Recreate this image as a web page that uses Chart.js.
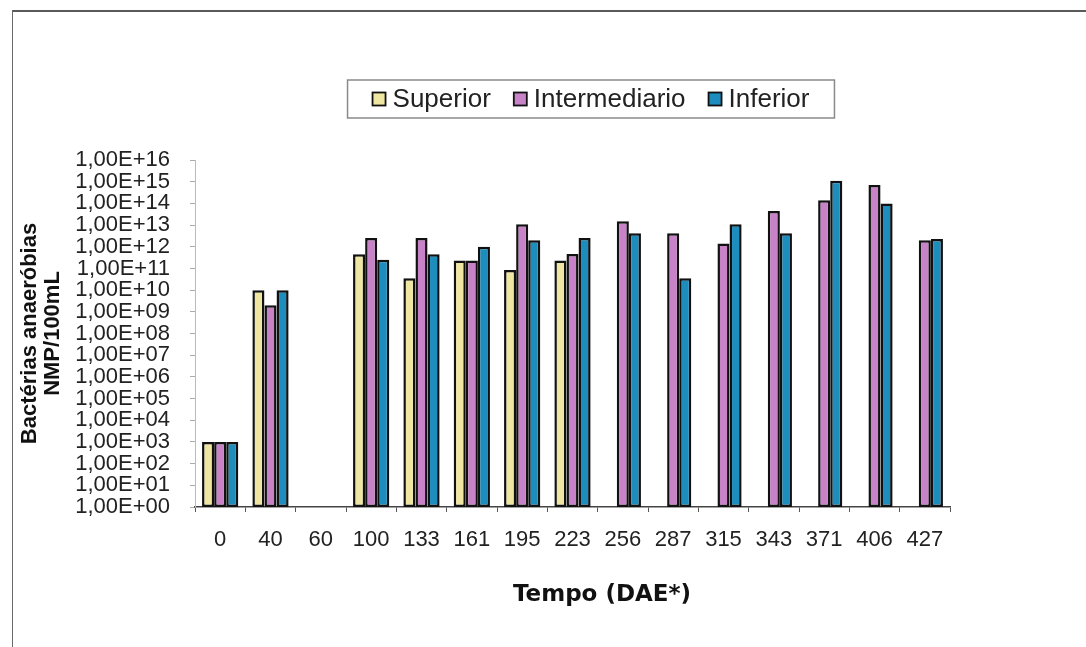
<!DOCTYPE html>
<html><head><meta charset="utf-8">
<script src="https://cdn.jsdelivr.net/npm/chart.js@4.4.0/dist/chart.umd.min.js"></script>
<style>
html,body{margin:0;padding:0;background:#fff;overflow:hidden;width:1086px;height:647px}
#frame{position:absolute;left:12px;top:10px;width:1100px;height:700px;border-top:2px solid #5a5a5a;border-left:1.5px solid #6a6a6a;}
#wrap{position:absolute;left:0;top:0;width:1086px;height:647px}
</style></head><body>
<div id="frame"></div>
<div id="wrap"><canvas id="c" width="1086" height="647"></canvas></div>
<script>
// ---- data ----
const categories = ['0','40','60','100','133','161','195','223','256','287','315','343','371','406','427'];
const superior      = [1e3, 1e10,  null, 4.5e11, 3.5e10, 2.3e11, 8.5e10, 2.3e11, null,   null,   null,   null,   null,   null,   null];
const intermediario = [1e3, 2e9,   null, 2.5e12, 2.5e12, 2.3e11, 1.1e13, 4.6e11, 1.5e13, 4.2e12, 1.4e12, 4.5e13, 1.4e14, 7e14,   2e12];
const inferior      = [1e3, 1e10,  null, 2.5e11, 4.5e11, 1e12,   2e12,   2.5e12, 4.2e12, 3.5e10, 1.1e13, 4.2e12, 1.1e15, 1e14,   2.3e12];
const seriesNames = ['Superior','Intermediario','Inferior'];
const yTickExponents = [0,1,2,3,4,5,6,7,8,9,10,11,12,13,14,15,16];
const yTitle = ['Bactérias anaeróbias','NMP/100mL'];
const xTitle = 'Tempo (DAE*)';

const colors = ['#EFE6A1','#C883C8','#1D8DBE'];

const legendBox = {
  id: 'legendBox',
  afterDraw(chart) {
    const ctx = chart.ctx;
    ctx.save();
    ctx.font = '26px "Liberation Sans", Arial, sans-serif';
    const ds = chart.data.datasets;
    const box = 13, gap = 7, sep = 23, padX = 25;
    const widths = ds.map(d => ctx.measureText(d.label).width);
    let total = 0;
    widths.forEach((w, i) => { total += box + gap + w + (i < widths.length - 1 ? sep : 0); });
    const cx = 591, cy = 99, h = 38;
    const left = cx - total / 2 - padX, right = cx + total / 2 + padX;
    ctx.strokeStyle = '#8a8a8a';
    ctx.lineWidth = 1.5;
    ctx.strokeRect(left, cy - h / 2, right - left, h);
    let x = cx - total / 2;
    ds.forEach((d, i) => {
      ctx.fillStyle = d.backgroundColor;
      ctx.fillRect(x, cy - box / 2, box, box);
      ctx.strokeStyle = '#111';
      ctx.lineWidth = 1.8;
      ctx.strokeRect(x, cy - box / 2, box, box);
      ctx.fillStyle = '#222';
      ctx.textBaseline = 'middle';
      ctx.textAlign = 'left';
      ctx.fillText(d.label, x + box + gap, cy + 1);
      x += box + gap + widths[i] + sep;
    });
    // x axis title
    ctx.font = 'bold 23px "DejaVu Sans", Verdana, sans-serif';
    ctx.fillStyle = '#111';
    ctx.textAlign = 'center';
    ctx.fillText(xTitle, 602, 595);
    ctx.restore();
  }
};

new Chart(document.getElementById('c'), {
  type: 'bar',
  data: {
    labels: categories,
    datasets: [superior, intermediario, inferior].map((vals, i) => ({
      label: seriesNames[i],
      data: vals,
      backgroundColor: colors[i],
      borderColor: '#111',
      borderWidth: 2.5,
      borderSkipped: false,
      categoryPercentage: 0.72,
      barPercentage: 1.0
    }))
  },
  options: {
    responsive: false,
    devicePixelRatio: 1,
    animation: false,
    layout: { padding: { top: 160, right: 136, bottom: 0, left: 0 } },
    plugins: { legend: { display: false }, tooltip: { enabled: false } },
    scales: {
      x: {
        grid: { display: true, offset: true, drawOnChartArea: false, drawTicks: true, tickLength: 5, color: '#555', lineWidth: 1 },
        border: { display: true, color: '#444', width: 1.5 },
        ticks: { color: '#222', padding: 15, font: { family: '"Liberation Sans", Arial, sans-serif', size: 22 }, maxRotation: 0, autoSkip: false },
        afterFit(scale) { scale.height = 140; }
      },
      y: {
        type: 'logarithmic',
        min: 1,
        max: 1e16,
        grid: { display: true, drawOnChartArea: false, drawTicks: true, tickLength: 5, color: '#aaa' },
        border: { display: true, color: '#bbb', width: 1 },
        afterBuildTicks(scale) { scale.ticks = yTickExponents.map(e => ({ value: Math.pow(10, e), major: true })); },
        ticks: {
          color: '#222', padding: 20, autoSkip: false,
          font: { family: '"Liberation Sans", Arial, sans-serif', size: 22 },
          callback: (v) => '1,00E+' + String(Math.round(Math.log10(v))).padStart(2, '0')
        },
        title: {
          display: true, text: yTitle, color: '#111',
          font: { family: '"Liberation Sans", Arial, sans-serif', size: 22, weight: 'bold', lineHeight: 1.05 },
          padding: { top: 18, bottom: 0 }
        },
        afterFit(scale) { scale.width = 195; }
      }
    }
  },
  plugins: [legendBox]
});
</script>
</body></html>
